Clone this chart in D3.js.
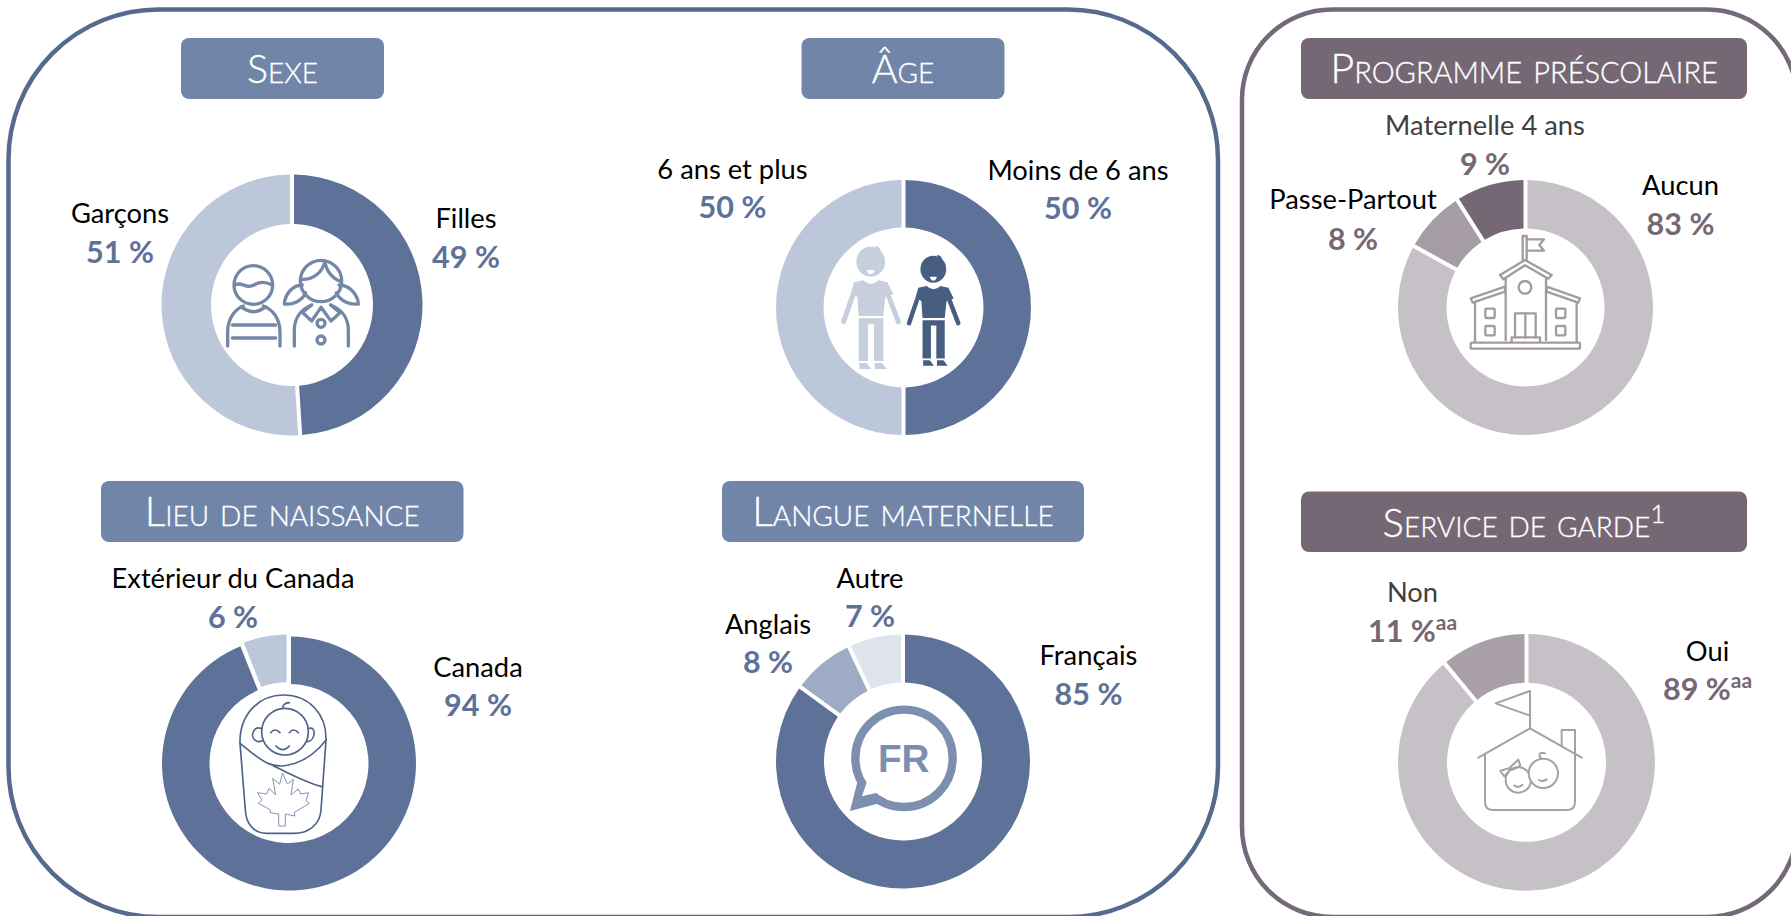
<!DOCTYPE html>
<html lang="fr">
<head>
<meta charset="utf-8">
<title>Profil des enfants</title>
<script src="https://cdn.jsdelivr.net/npm/d3@7/dist/d3.min.js"></script>
<style>
html,body{margin:0;padding:0;background:#fff;overflow:hidden}
svg{display:block}
text{font-family:Lato,"Open Sans",sans-serif}
</style>
</head>
<body>
<svg id="chart" width="1791" height="916" viewBox="0 0 1791 916"></svg>
<script>
// ---- Data ----
const sexeLabels = ["Filles", "Garçons"];
const sexeValues = [49, 51];
const ageLabels = ["Moins de 6 ans", "6 ans et plus"];
const ageValues = [50, 50];
const lieuLabels = ["Canada", "Extérieur du Canada"];
const lieuValues = [94, 6];
const langueLabels = ["Français", "Anglais", "Autre"];
const langueValues = [85, 8, 7];
const programmeLabels = ["Aucun", "Passe-Partout", "Maternelle 4 ans"];
const programmeValues = [83, 8, 9];
const gardeLabels = ["Oui", "Non"];
const gardeValues = [89, 11];
const gardeNotes = ["aa", "aa"];

// ---- Styles and layout (separate from the data) ----
const BLUE = "#5e7299", BLUE_HEAD = "#7085a8", PLUM = "#756874";
const blueRamp = ["#5e7299", "#bcc7d9"];
const blueRamp3 = ["#5e7299", "#9dabc5", "#dee3ec"];
const plumRamp3 = ["#c6c0c7", "#a69ca5", "#756874"];
const plumRamp2 = ["#c6c0c7", "#a99fa8"];

const svg = d3.select("#chart");

const LABEL_SIZE = 27.3, VALUE_SIZE = 30.5;

const panels = [
  {x: 8.5, y: 9.5, w: 1209.5, h: 907.5, r: 150, color: "#566a8e"},
  {x: 1242, y: 9.5, w: 555, h: 907.5, r: 90, color: "#75687a"}
];
svg.selectAll("rect.panel").data(panels).join("rect")
  .attr("class", "panel")
  .attr("x", d => d.x).attr("y", d => d.y)
  .attr("width", d => d.w).attr("height", d => d.h)
  .attr("rx", d => d.r).attr("ry", d => d.r)
  .attr("fill", "none").attr("stroke", d => d.color).attr("stroke-width", 4.5);

const charts = [
  {title: "Sexe", labels: sexeLabels, values: sexeValues, colors: blueRamp, accent: BLUE, head: BLUE_HEAD,
   box: [181, 38, 203, 61], cx: 292, cy: 305, R: 130.5, r: 81, titleSize: 39.5,
   pos: [[466, 228, 268], [120, 223, 263]]},
  {title: "Âge", labels: ageLabels, values: ageValues, colors: blueRamp, accent: BLUE, head: BLUE_HEAD,
   box: [801.5, 38, 203, 61], cx: 903.5, cy: 307.5, R: 127.5, r: 80, titleSize: 39.5,
   pos: [[1078, 180, 219], [732.5, 179, 218]]},
  {title: "Lieu de naissance", labels: lieuLabels, values: lieuValues, colors: blueRamp, accent: BLUE, head: BLUE_HEAD,
   box: [101, 481, 362.5, 61], cx: 289, cy: 763.5, R: 127, r: 79.5, explode: [0, 2], titleSize: 40.5,
   pos: [[478, 677, 716], [233, 588, 628]]},
  {title: "Langue maternelle", labels: langueLabels, values: langueValues, colors: blueRamp3, accent: BLUE, head: BLUE_HEAD,
   box: [722, 481, 362, 61], cx: 903, cy: 761.5, R: 127, r: 79, titleSize: 40.5,
   pos: [[1088.5, 665, 705], [768, 634, 673], [870, 588, 627]]},
  {title: "Programme préscolaire", labels: programmeLabels, values: programmeValues, colors: plumRamp3, accent: PLUM, head: PLUM,
   box: [1301, 38, 446, 61], cx: 1525.5, cy: 307.5, R: 127.5, r: 79, titleSize: 41.5,
   pos: [[1680.5, 195, 235], [1353, 209, 250], [1485, 135, 175]], labelColor: ["#000", "#000", "#404040"]},
  {title: "Service de garde", sup: "1", labels: gardeLabels, values: gardeValues, notes: gardeNotes, colors: plumRamp2, accent: PLUM, head: PLUM,
   box: [1301, 491.5, 446, 60.5], cx: 1526.5, cy: 762.3, R: 128.4, r: 79.5, titleSize: 40,
   pos: [[1707.5, 661, 700], [1412.5, 601.5, 642]], labelColor: ["#000", "#404040"]}
];

const pie = d3.pie().sort(null).value(d => d);

charts.forEach(c => {
  // header
  const h = svg.append("g");
  h.append("rect").attr("x", c.box[0]).attr("y", c.box[1]).attr("width", c.box[2]).attr("height", c.box[3])
    .attr("rx", 8).attr("fill", c.head);
  const t = h.append("text")
    .attr("x", c.box[0] + c.box[2] / 2).attr("y", c.box[1] + 45)
    .attr("text-anchor", "middle").attr("fill", "#fff")
    .attr("stroke", "#fff").attr("stroke-width", 0.35)
    .attr("font-size", c.titleSize).attr("font-weight", 300)
    .style("font-variant", "small-caps")
    .text(c.title);
  if (c.sup) t.append("tspan").attr("dy", -14).attr("font-size", 26).style("font-variant", "normal").text(c.sup);

  // donut, drawn with the library's pie and arc generators
  const arc = d3.arc().innerRadius(c.r).outerRadius(c.R).padRadius(c.R).padAngle(4 / c.R);
  const g = svg.append("g").attr("transform", `translate(${c.cx},${c.cy})`);
  const arcs = pie(c.values);
  g.selectAll("path").data(arcs).join("path")
    .attr("d", arc)
    .attr("fill", (d, i) => c.colors[i])
    .attr("transform", (d, i) => {
      const e = c.explode ? c.explode[i] : 0;
      if (!e) return null;
      const a = (d.startAngle + d.endAngle) / 2;
      return `translate(${e * Math.sin(a)},${-e * Math.cos(a)})`;
    });

  // labels
  c.labels.forEach((lab, i) => {
    const [x, y1, y2] = c.pos[i];
    svg.append("text").attr("x", x).attr("y", y1).attr("text-anchor", "middle")
      .attr("font-size", LABEL_SIZE)
      .attr("fill", c.labelColor ? c.labelColor[i] : "#000").text(lab);
    const v = svg.append("text").attr("x", x).attr("y", y2).attr("text-anchor", "middle")
      .attr("font-size", VALUE_SIZE).attr("font-weight", 700).attr("fill", c.accent)
      .text(c.values[i] + " %");
    if (c.notes) v.append("tspan").attr("dy", -12).attr("font-size", 21).text(c.notes[i]);
  });
});

// ---- Pictograms: drawn in a local 3x grid placed by translate/scale ----
function icon(x, y) {
  return svg.append("g").attr("transform", `translate(${x},${y}) scale(${1 / 3})`)
    .attr("fill", "none").attr("stroke-linecap", "round").attr("stroke-linejoin", "round");
}
function paths(g, list, color, w) {
  list.forEach(d => g.append("path").attr("d", d).attr("stroke", color).attr("stroke-width", w));
}
function circles(g, list, color, w, fill) {
  list.forEach(([x, y, r]) => g.append("circle").attr("cx", x).attr("cy", y).attr("r", r)
    .attr("stroke", color).attr("stroke-width", w).attr("fill", fill || "none"));
}

// Boy and girl
{
  const g = icon(215, 250), col = "#7488a6";
  circles(g, [[115, 105, 58], [318, 93, 62], [318, 220, 12], [318, 270, 12]], col, 10);
  paths(g, [
    "M60,105 C80,93 92,118 115,106 C132,94 150,94 171,105",
    "M38,288 V245 C38,205 60,178 85,168",
    "M145,168 C172,178 195,205 195,245 V288",
    "M78,170 Q115,200 152,170",
    "M52,225 H182", "M52,264 H182",
    "M330,33 C322,68 295,90 259,88",
    "M330,38 C335,65 355,88 379,95",
    "M262,105 C235,105 210,130 208,162 C235,165 262,152 272,128",
    "M372,105 C400,105 428,130 430,162 C402,165 374,152 364,128",
    "M238,288 V240 C238,205 258,178 290,165",
    "M400,288 V240 C400,205 380,178 347,165",
    "M290,165 L262,187 L290,213 L318,172 L348,213 L375,188 L347,165"
  ], col, 10);
}

// Two children standing
{
  const person = (g, col) => {
    g.append("ellipse").attr("cx", 122).attr("cy", 80).attr("rx", 43).attr("ry", 45).attr("fill", col).attr("stroke", "none");
    g.append("path").attr("d", "M134,32 L146,36 L152,48 L138,42 Z").attr("fill", col).attr("stroke", "none");
    g.append("path").attr("d", "M110,105 H134 Q130,118 122,118 Q114,118 110,105 Z").attr("fill", "#fff").attr("stroke", "none");
    g.append("path").attr("d", "M72,142 L100,136 Q122,158 146,136 L172,142 L190,178 L166,186 L160,243 H86 L82,186 L62,176 Z")
      .attr("fill", col).attr("stroke", "none");
    g.append("path").attr("d", "M86,250 H160 V378 H132 V268 H114 V378 H86 Z").attr("fill", col).attr("stroke", "none");
    g.append("path").attr("d", "M88,384 H110 L124,402 H88 Z M134,384 H156 L170,402 H134 Z").attr("fill", col).attr("stroke", "none");
    g.append("path").attr("d", "M67,184 L41,260 M176,184 L205,260").attr("stroke", col).attr("stroke-width", 15);
  };
  const a = icon(830, 235);
  person(a, "#c7cfdc");
  const b = icon(830, 235).append("g").attr("transform", "translate(200.2,30.5) scale(.9)");
  b.attr("stroke-linecap", "round");
  person(b, "#485e80");
}

// Swaddled baby with maple leaf
{
  const g = icon(230, 690), col = "#4f6488";
  paths(g, [
    "M30,160 C28,70 90,15 160,15 C235,15 290,70 288,150 L273,360 C270,405 235,430 190,430 H110 C70,430 48,400 46,360 Z",
    "M158,68 C155,45 165,38 178,38",
    "M92,115 C70,108 60,140 75,150 C82,158 90,155 97,152",
    "M238,115 C258,108 258,150 233,155",
    "M30,160 C80,200 120,240 175,225 C230,215 270,175 288,150",
    "M130,228 C170,245 220,275 275,290"
  ], col, 5);
  circles(g, [[165, 125, 70]], col, 5, "#fff");
  paths(g, [
    "M158,250 L172,282 L190,268 L183,315 L205,297 L212,312 L236,308 L228,332 L238,340 L192,368 L195,378 L166,372 V408 H146 V372 L120,368 L122,360 L85,340 L96,330 L82,308 L110,312 L117,295 L137,315 L128,265 L148,282 Z"
  ], "#8295b4", 3);
  paths(g, ["M122,128 Q135,112 150,128", "M178,128 Q190,112 205,128", "M138,168 Q158,190 178,168"], col, 5);
}

// Speech bubble FR
{
  const g = icon(840, 695), col = "#7d8fae";
  circles(g, [[192, 190, 146]], col, 25);
  g.append("path").attr("d", "M55,250 L30,348 L118,325 Z").attr("fill", col).attr("stroke", "none");
  g.append("path").attr("d", "M80,262 L66,304 L108,294 L192,190 Z").attr("fill", "#fff").attr("stroke", "none");
  g.append("text").attr("x", 191).attr("y", 232).attr("text-anchor", "middle")
    .attr("font-size", 116).attr("font-weight", 700).attr("fill", col).attr("stroke", "none")
    .style("font-family", "'Liberation Sans',Arial,sans-serif").text("FR");
}

// School
{
  const g = icon(1460, 230), col = "#a39ba2", w = 7;
  paths(g, [
    "M188,90 V18 H200 V90", "M200,28 H252 L238,45 L252,62 H200",
    "M120,135 L195,90 L275,135 L265,146 L195,106 L130,148 Z",
    "M137,145 V330", "M258,145 V330",
    "M32,205 L135,170 V185 L38,218 Z", "M260,170 L360,205 L355,218 L260,185 Z",
    "M45,218 V335", "M350,218 V335",
    "M165,322 V250 H227 V322", "M196,250 V322",
    "M155,335 V322 H240 V335"
  ], col, w);
  [[76, 236], [76, 288], [288, 236], [288, 288]].forEach(([x, y]) =>
    g.append("rect").attr("x", x).attr("y", y).attr("width", 28).attr("height", 28).attr("rx", 3)
      .attr("stroke", col).attr("stroke-width", w));
  g.append("rect").attr("x", 32).attr("y", 338).attr("width", 328).attr("height", 18).attr("rx", 3)
    .attr("stroke", col).attr("stroke-width", w);
  circles(g, [[195, 172, 19]], col, w);
}

// Daycare house
{
  const g = icon(1465, 685), col = "#a5a0a6", w = 6;
  paths(g, [
    "M195,18 L92,55 L195,92", "M195,18 V130",
    "M40,218 L195,130 L350,218",
    "M60,208 V350 Q60,375 85,375 H305 Q330,375 330,350 V208",
    "M290,182 V135 H330 V208"
  ], col, w);
  circles(g, [[160, 285, 38]], col, w);
  circles(g, [[235, 265, 44]], col, w, "#fff");
  paths(g, [
    "M128,250 L106,258 L118,274 L134,256 Z", "M134,248 L160,224 L166,242 L144,254 Z",
    "M228,221 C218,208 225,200 240,205", "M148,302 Q160,310 172,300", "M222,285 Q233,292 245,283"
  ], col, w);
}
</script>
</body>
</html>
